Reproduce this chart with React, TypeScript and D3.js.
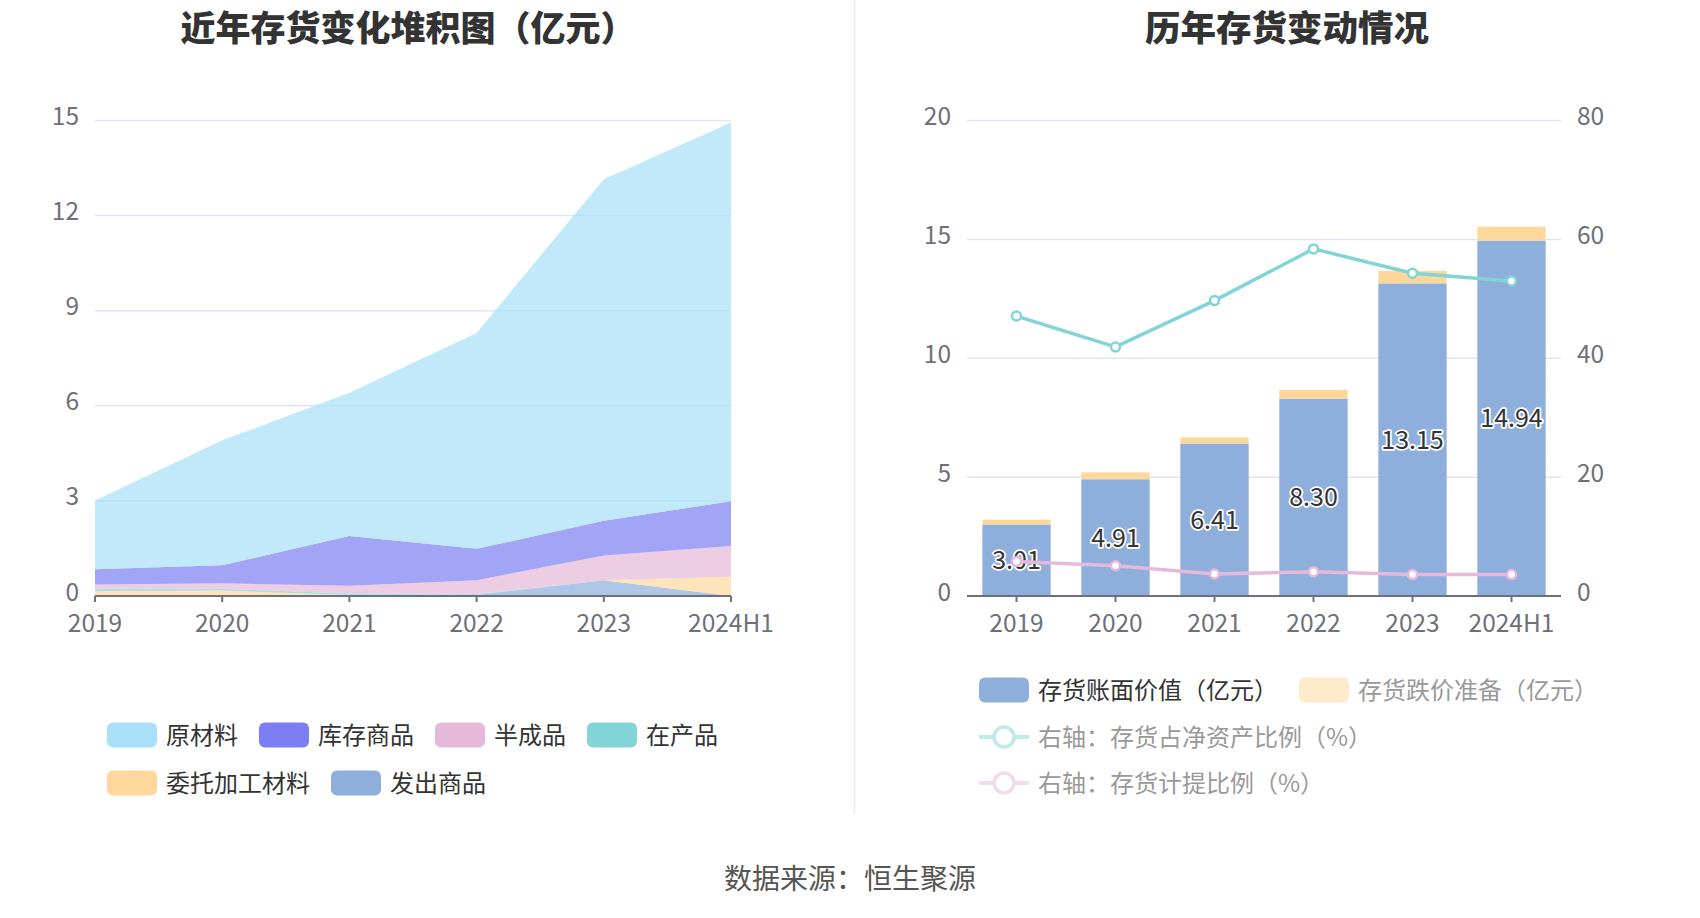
import React from 'react';
import * as d3 from 'd3';

const years = ['2019', '2020', '2021', '2022', '2023', '2024H1'];

// Left chart: stacked inventory composition (亿元)
const rawMaterial = [2.17, 3.94, 4.52, 6.81, 10.78, 11.95];
const finishedGoods = [0.48, 0.57, 1.57, 0.99, 1.09, 1.41];
const semiFinished = [0.13, 0.17, 0.24, 0.44, 0.78, 0.97];
const workInProgress = [0.07, 0.06, 0.05, 0.02, 0.0, 0.0];
const consignedMaterial = [0.14, 0.15, 0.02, 0.0, 0.0, 0.61];
const shippedGoods = [0.02, 0.02, 0.01, 0.04, 0.5, 0.0];
const leftTicks = [0, 3, 6, 9, 12, 15];

// Right chart
const bookValue = [3.01, 4.91, 6.41, 8.3, 13.15, 14.94];
const provision = [0.2, 0.29, 0.26, 0.37, 0.53, 0.59];
const invToNetAssets = [47.1, 41.9, 49.7, 58.4, 54.3, 53.0];
const provisionRatio = [5.8, 5.1, 3.7, 4.1, 3.6, 3.6];
const rightTicksL = [0, 5, 10, 15, 20];
const rightTicksR = [0, 20, 40, 60, 80];

const FONT = '"Noto Sans CJK SC", "Noto Sans", sans-serif';
const AXIS = '#6e7079';
const GRID = '#e0e6f1';

const leftSeries = [
  { name: '原材料', data: rawMaterial, color: '#a8e0f8' },
  { name: '库存商品', data: finishedGoods, color: '#7b7ef2' },
  { name: '半成品', data: semiFinished, color: '#e6b8d9' },
  { name: '在产品', data: workInProgress, color: '#82d4d6' },
  { name: '委托加工材料', data: consignedMaterial, color: '#fdd89a' },
  { name: '发出商品', data: shippedGoods, color: '#8eaedb' },
];

export default function App() {
  // ---------- left chart ----------
  const xL = d3.scalePoint<string>().domain(years).range([95, 731]);
  const yL = d3.scaleLinear().domain([0, 15]).range([596, 120.5]);
  const stackOrder = [...leftSeries].reverse(); // bottom first
  const table = years.map((y, i) => {
    const row: any = { year: y };
    leftSeries.forEach((s) => (row[s.name] = s.data[i]));
    return row;
  });
  const stacked = d3.stack<any>().keys(stackOrder.map((s) => s.name))(table);
  const area = d3
    .area<any>()
    .x((d) => xL(d.data.year) as number)
    .y0((d) => yL(d[0]))
    .y1((d) => yL(d[1]));

  // ---------- right chart ----------
  const xR = d3.scaleBand<string>().domain(years).range([967, 1561]).paddingInner(0.31).paddingOuter(0.155);
  const yR = d3.scaleLinear().domain([0, 20]).range([596, 120.5]);
  const yR2 = d3.scaleLinear().domain([0, 80]).range([596, 120.5]);
  const cx = (y: string) => (xR(y) as number) + xR.bandwidth() / 2;
  const line1 = d3
    .line<number>()
    .x((_, i) => cx(years[i]))
    .y((d) => yR2(d));

  // legend layout
  const legendRowsLeft = [leftSeries.slice(0, 4), leftSeries.slice(4)];
  const legendLeftY = [735, 783];

  const rightLegendRow1 = [
    { name: '存货账面价值（亿元）', color: '#8eaedb', text: '#333', op: 1 },
    { name: '存货跌价准备（亿元）', color: '#fdd89a', text: '#999', op: 0.5 },
  ];

  const label = (t: string, x: number, y: number, anchor: string, extra: any = {}) => (
    <text x={x} y={y} textAnchor={anchor as any} fontSize={24.5} fill={AXIS} fontFamily={FONT} {...extra}>
      {t}
    </text>
  );

  let lx = 107;
  return (
    <svg
      width={1700}
      height={918}
      style={{ position: 'absolute', left: 0, top: 0, background: '#fff' }}
      fontFamily={FONT}
    >
      <rect x={0} y={0} width={1700} height={918} fill="#fff" />
      {/* titles */}
      <text x={408} y={41} textAnchor="middle" fontSize={35} fontWeight={900} fill="#333">
        近年存货变化堆积图（亿元）
      </text>
      <text x={1287} y={41} textAnchor="middle" fontSize={35.5} fontWeight={900} fill="#333">
        历年存货变动情况
      </text>
      {/* separator */}
      <line x1={854.5} x2={854.5} y1={0} y2={814} stroke="#ececec" strokeWidth={1.5} />

      {/* ---------- LEFT ---------- */}
      {leftTicks.map((t) => (
        <g key={'lg' + t}>
          {t > 0 && <line x1={95} x2={731} y1={yL(t)} y2={yL(t)} stroke={GRID} strokeWidth={1.5} />}
          {label(String(t), 79, yL(t) + 4.5, 'end')}
        </g>
      ))}
      {stacked.map((layer) => {
        const s = leftSeries.find((q) => q.name === layer.key)!;
        return <path key={layer.key} d={area(layer as any) || ''} fill={s.color} fillOpacity={0.7} />;
      })}
      <line x1={95} x2={731} y1={596} y2={596} stroke={AXIS} strokeWidth={2} />
      {years.map((y) => (
        <g key={'lx' + y}>
          <line x1={xL(y)} x2={xL(y)} y1={596} y2={602} stroke={AXIS} strokeWidth={2} />
          {label(y, xL(y) as number, 632, 'middle')}
        </g>
      ))}
      {legendRowsLeft.map((row, ri) => {
        lx = 107;
        return row.map((s) => {
          const x0 = lx;
          lx += 50 + 9 + s.name.length * 24 + 21;
          return (
            <g key={'leg' + s.name}>
              <rect x={x0} y={legendLeftY[ri] - 12.5} width={50} height={25} rx={6} fill={s.color} />
              <text x={x0 + 59} y={legendLeftY[ri] + 8.5} fontSize={24} fill="#333">
                {s.name}
              </text>
            </g>
          );
        });
      })}

      {/* ---------- RIGHT ---------- */}
      {rightTicksL.map((t, i) => (
        <g key={'rg' + t}>
          {t > 0 && <line x1={967} x2={1561} y1={yR(t)} y2={yR(t)} stroke={GRID} strokeWidth={1.5} />}
          {label(String(t), 951, yR(t) + 4.5, 'end')}
          {label(String(rightTicksR[i]), 1577, yR2(rightTicksR[i]) + 4.5, 'start')}
        </g>
      ))}
      {years.map((y, i) => (
        <g key={'bar' + y}>
          <rect x={xR(y)} y={yR(bookValue[i])} width={xR.bandwidth()} height={yR(0) - yR(bookValue[i])} fill="#8eaedb" />
          <rect
            x={xR(y)}
            y={yR(bookValue[i] + provision[i])}
            width={xR.bandwidth()}
            height={yR(bookValue[i]) - yR(bookValue[i] + provision[i])}
            fill="#fdd89a"
          />
        </g>
      ))}
      <line x1={967} x2={1561} y1={596} y2={596} stroke={AXIS} strokeWidth={2} />
      {years.map((y) => (
        <g key={'rx' + y}>
          <line x1={cx(y)} x2={cx(y)} y1={596} y2={602} stroke={AXIS} strokeWidth={2} />
          {label(y, cx(y), 632, 'middle')}
        </g>
      ))}
      {years.map((y, i) => (
        <text
          key={'bl' + y}
          x={cx(y)}
          y={yR(bookValue[i] / 2) + 9}
          textAnchor="middle"
          fontSize={25}
          fill="#333"
          stroke="#fff"
          strokeWidth={3.5}
          paintOrder="stroke"
          strokeLinejoin="round"
        >
          {bookValue[i].toFixed(2)}
        </text>
      ))}
      <path d={line1(invToNetAssets) || ''} fill="none" stroke="#82d4d6" strokeWidth={3.5} />
      <path d={line1(provisionRatio) || ''} fill="none" stroke="#e6b8d9" strokeWidth={3.5} />
      {years.map((y, i) => (
        <g key={'mk' + y}>
          <circle cx={cx(y)} cy={yR2(invToNetAssets[i])} r={4.5} fill="#fff" stroke="#82d4d6" strokeWidth={2.5} />
          <circle cx={cx(y)} cy={yR2(provisionRatio[i])} r={4.5} fill="#fff" stroke="#e6b8d9" strokeWidth={2.5} />
        </g>
      ))}

      {/* right legend */}
      {(() => {
        let x = 979;
        return rightLegendRow1.map((s) => {
          const x0 = x;
          x += 50 + 9 + s.name.length * 24 + 21;
          return (
            <g key={'rl' + s.name}>
              <rect x={x0} y={690 - 12.5} width={50} height={25} rx={6} fill={s.color} fillOpacity={s.op} />
              <text x={x0 + 59} y={690 + 8.5} fontSize={24} fill={s.text}>
                {s.name}
              </text>
            </g>
          );
        });
      })()}
      {[
        { name: '右轴：存货占净资产比例（%）', color: '#82d4d6', y: 737 },
        { name: '右轴：存货计提比例（%）', color: '#e6b8d9', y: 783 },
      ].map((s) => (
        <g key={'rl2' + s.name} opacity={0.5}>
          <line x1={979} x2={1029} y1={s.y} y2={s.y} stroke={s.color} strokeWidth={4} />
          <circle cx={1004} cy={s.y} r={10} fill="#fff" stroke={s.color} strokeWidth={3.5} />
        </g>
      ))}
      {[
        { name: '右轴：存货占净资产比例（%）', y: 737 },
        { name: '右轴：存货计提比例（%）', y: 783 },
      ].map((s) => (
        <text key={'rlt' + s.name} x={1038} y={s.y + 8.5} fontSize={24} fill="#999">
          {s.name}
        </text>
      ))}

      {/* footer */}
      <text x={850} y={889} textAnchor="middle" fontSize={28} fill="#555">
        数据来源：恒生聚源
      </text>
    </svg>
  );
}
